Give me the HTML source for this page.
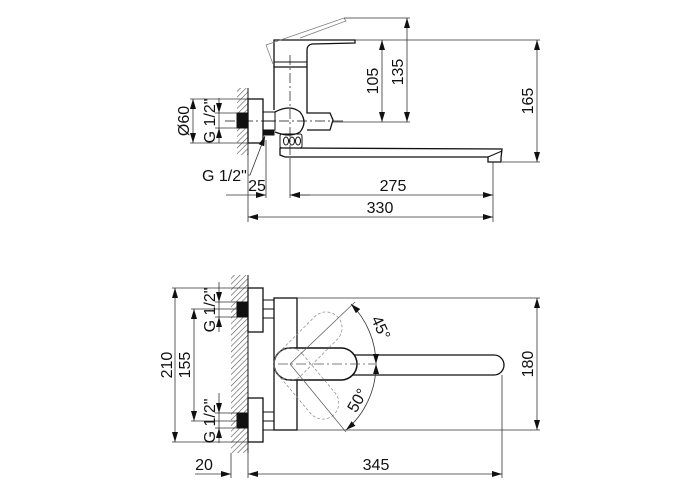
<!DOCTYPE html>
<html><head><meta charset="utf-8"><style>
html,body{margin:0;padding:0;background:#fff;}
svg{display:block}
text{font-family:"Liberation Sans",sans-serif;font-size:16px;fill:#111}
</style></head><body>
<svg width="700" height="500" viewBox="0 0 700 500" xmlns="http://www.w3.org/2000/svg">
<defs>
<pattern id="h" width="4" height="4" patternUnits="userSpaceOnUse" patternTransform="rotate(45)">
<line x1="0" y1="0" x2="0" y2="4" stroke="#555" stroke-width="1.2"/></pattern>
<marker id="a" viewBox="0 0 10 6" refX="10" refY="3" markerWidth="10" markerHeight="6" orient="auto-start-reverse" markerUnits="userSpaceOnUse">
<path d="M0,0 L10,3 L0,6z" fill="#111"/></marker>
</defs>
<g stroke="#111" fill="none" stroke-width="1">
<rect x="237" y="88" width="11" height="67" fill="url(#h)" stroke="none"/>
<rect x="237" y="113" width="11" height="15" fill="#111"/>
<line x1="248" y1="88" x2="248" y2="155"/>
<rect x="248" y="99" width="15" height="44" stroke-width="1.3"/>
<rect x="263" y="112" width="12" height="18"/>
<line x1="263" y1="121" x2="275" y2="121"/>
<rect x="264" y="130" width="10" height="5" fill="#111"/>
<path d="M274,110 L274,67 L307,67 L307,110" stroke-width="1.3"/>
<path d="M274,67 L274,40 L355,40 L355,43 L312,44 Q307,45 307,50 L307,67" stroke-width="1.3"/>
<line x1="274" y1="62" x2="307" y2="62"/>
<path d="M266,45 L344,18 L346,21 L300,38 M266,45 L273,64" stroke="#777" stroke-width="0.7"/>
<path d="M275,112 Q290,104 300,112 Q308,122 300,132 Q290,138 275,132" stroke-width="1.3"/>
<path d="M307,110 L307,113 L330,113 L333,120 L330,130 L307,130" stroke-width="1.3"/>
<rect x="280" y="134" width="22" height="14" rx="2"/>
<ellipse cx="286" cy="141" rx="2.5" ry="4"/><ellipse cx="292" cy="141" rx="2.5" ry="4"/><ellipse cx="298" cy="141" rx="2.5" ry="4"/>
<path d="M280,148 L280,155 L285,157 L488,157 L488,162 L501,162 L501,158 L502,149 L290,148 Z" stroke-width="1.3"/>
<path d="M488,157 L502,151"/>
<line x1="225" y1="121" x2="345" y2="121" stroke-dasharray="10 3 2 3" stroke-width="0.7"/>
<line x1="290" y1="55" x2="290" y2="160" stroke-dasharray="10 3 2 3" stroke-width="0.7"/>
<g stroke="#333" stroke-width="0.8">
<line x1="344" y1="18" x2="410" y2="18"/>
<line x1="355" y1="40" x2="540" y2="40"/>
<line x1="333" y1="122" x2="410" y2="122"/>
<line x1="502" y1="162" x2="540" y2="162"/>
<line x1="407" y1="18" x2="407" y2="122" marker-start="url(#a)" marker-end="url(#a)"/>
<line x1="382" y1="40" x2="382" y2="122" marker-start="url(#a)" marker-end="url(#a)"/>
<line x1="537" y1="40" x2="537" y2="162" marker-start="url(#a)" marker-end="url(#a)"/>
<line x1="190" y1="99" x2="248" y2="99"/><line x1="190" y1="143" x2="248" y2="143"/>
<line x1="193" y1="99" x2="193" y2="143" marker-start="url(#a)" marker-end="url(#a)"/>
<line x1="215" y1="113" x2="237" y2="113"/><line x1="215" y1="128" x2="237" y2="128"/>
<line x1="219" y1="98" x2="219" y2="113" marker-end="url(#a)"/>
<line x1="219" y1="143" x2="219" y2="128" marker-end="url(#a)"/>
<line x1="219" y1="113" x2="219" y2="128"/>
<path d="M248,175 L250,175 L265,136" marker-end="url(#a)"/>
<line x1="248" y1="143" x2="248" y2="222"/>
<line x1="266" y1="140" x2="266" y2="198"/>
<line x1="290" y1="160" x2="290" y2="198"/>
<line x1="493" y1="162" x2="493" y2="222"/>
<line x1="226" y1="195" x2="266" y2="195" marker-end="url(#a)"/>
<line x1="310" y1="195" x2="290" y2="195" marker-end="url(#a)"/>
<line x1="290" y1="195" x2="493" y2="195" marker-start="url(#a)" marker-end="url(#a)"/>
<line x1="248" y1="217" x2="493" y2="217" marker-start="url(#a)" marker-end="url(#a)"/>
</g>

<rect x="231" y="275" width="17" height="178" fill="url(#h)" stroke="none"/>
<line x1="248" y1="275" x2="248" y2="453"/>
<rect x="237" y="302" width="11" height="15" fill="#111"/>
<rect x="237" y="413" width="11" height="15" fill="#111"/>
<rect x="248" y="288" width="15" height="44" stroke-width="1.3"/>
<rect x="248" y="398" width="15" height="44" stroke-width="1.3"/>
<rect x="263" y="300" width="11" height="18"/>
<rect x="263" y="412" width="11" height="18"/>
<line x1="263" y1="309" x2="274" y2="309"/><line x1="263" y1="421" x2="274" y2="421"/>
<rect x="274" y="298" width="23" height="132" stroke-width="1.3"/>
<path d="M340,355 L494,355 A10,10 0 0 1 494,375 L340,375" stroke-width="1.3"/>
<rect x="274" y="348" width="83" height="32" rx="16" fill="#fff" stroke-width="1.5"/>
<g stroke="#888" stroke-width="0.7" stroke-dasharray="3 2">
<rect x="274" y="348" width="83" height="32" rx="16" transform="rotate(-45 290 364)"/>
<rect x="274" y="348" width="83" height="32" rx="16" transform="rotate(50 290 364)"/>
</g>
<g stroke="#555" stroke-width="0.7">
<line x1="290" y1="364" x2="355" y2="302"/>
<line x1="290" y1="364" x2="346" y2="432"/>
<line x1="278" y1="364" x2="375" y2="364" stroke-dasharray="10 3 2 3"/>
</g>
<path d="M351,304 A86,86 0 0 1 376,364" stroke="#333" stroke-width="0.8" marker-start="url(#a)" marker-end="url(#a)"/>
<path d="M376,364 A86,86 0 0 1 346,430" stroke="#333" stroke-width="0.8" marker-start="url(#a)" marker-end="url(#a)"/>
<g stroke="#333" stroke-width="0.8">
<line x1="297" y1="298" x2="540" y2="298"/>
<line x1="297" y1="430" x2="540" y2="430"/>
<line x1="537" y1="298" x2="537" y2="430" marker-start="url(#a)" marker-end="url(#a)"/>
<line x1="172" y1="288" x2="248" y2="288"/><line x1="172" y1="442" x2="248" y2="442"/>
<line x1="175" y1="288" x2="175" y2="442" marker-start="url(#a)" marker-end="url(#a)"/>
<line x1="191" y1="309" x2="237" y2="309"/><line x1="191" y1="421" x2="237" y2="421"/>
<line x1="194" y1="309" x2="194" y2="421" marker-start="url(#a)" marker-end="url(#a)"/>
<line x1="215" y1="302" x2="237" y2="302"/><line x1="215" y1="317" x2="237" y2="317"/>
<line x1="219" y1="282" x2="219" y2="302" marker-end="url(#a)"/>
<line x1="219" y1="332" x2="219" y2="317" marker-end="url(#a)"/>
<line x1="219" y1="302" x2="219" y2="317"/>
<line x1="215" y1="413" x2="237" y2="413"/><line x1="215" y1="428" x2="237" y2="428"/>
<line x1="219" y1="393" x2="219" y2="413" marker-end="url(#a)"/>
<line x1="219" y1="443" x2="219" y2="428" marker-end="url(#a)"/>
<line x1="219" y1="413" x2="219" y2="428"/>
<line x1="231" y1="453" x2="231" y2="478"/>
<line x1="502" y1="375" x2="502" y2="478"/>
<line x1="248" y1="442" x2="248" y2="478"/>
<line x1="195" y1="474" x2="231" y2="474" marker-end="url(#a)"/>
<line x1="248" y1="474" x2="502" y2="474" marker-start="url(#a)" marker-end="url(#a)"/>
</g>
</g>
<text x="378" y="81" transform="rotate(-90 378 81)" text-anchor="middle">105</text>
<text x="403" y="72" transform="rotate(-90 403 72)" text-anchor="middle">135</text>
<text x="533" y="101" transform="rotate(-90 533 101)" text-anchor="middle">165</text>
<text x="189" y="121" transform="rotate(-90 189 121)" text-anchor="middle">Ø60</text>
<text x="215" y="121" transform="rotate(-90 215 121)" text-anchor="middle">G 1/2"</text>
<text x="202" y="181">G 1/2"</text>
<text x="257" y="191" text-anchor="middle">25</text>
<text x="393" y="191" text-anchor="middle">275</text>
<text x="380" y="213" text-anchor="middle">330</text>
<text x="172" y="365" transform="rotate(-90 172 365)" text-anchor="middle">210</text>
<text x="190" y="365" transform="rotate(-90 190 365)" text-anchor="middle">155</text>
<text x="215" y="310" transform="rotate(-90 215 310)" text-anchor="middle">G 1/2"</text>
<text x="215" y="421" transform="rotate(-90 215 421)" text-anchor="middle">G 1/2"</text>
<text x="533" y="364" transform="rotate(-90 533 364)" text-anchor="middle">180</text>
<text x="376" y="330" transform="rotate(65 376 330)" text-anchor="middle">45°</text>
<text x="362" y="403" transform="rotate(-60 362 403)" text-anchor="middle">50°</text>
<text x="204" y="470" text-anchor="middle">20</text>
<text x="376" y="470" text-anchor="middle">345</text>
</svg>
</body></html>
